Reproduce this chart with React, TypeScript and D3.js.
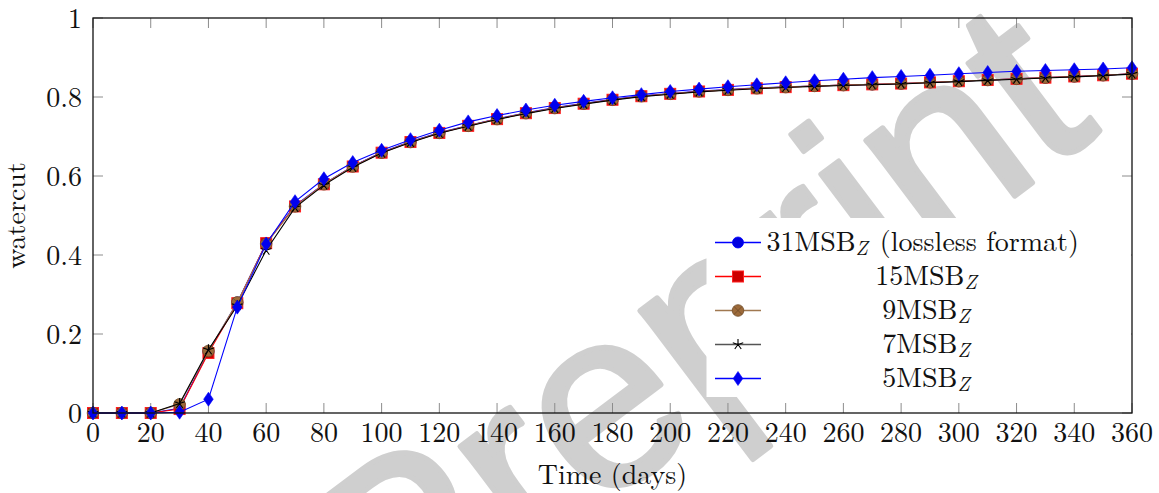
import React from "react";
import * as d3 from "d3";

const days = [0, 10, 20, 30, 40, 50, 60, 70, 80, 90, 100, 110, 120, 130, 140, 150, 160, 170, 180, 190, 200, 210, 220, 230, 240, 250, 260, 270, 280, 290, 300, 310, 320, 330, 340, 350, 360];

const msb31 = [0, 0, 0, 0.012, 0.155, 0.28, 0.43, 0.525, 0.58, 0.625, 0.66, 0.687, 0.71, 0.728, 0.745, 0.76, 0.773, 0.784, 0.794, 0.803, 0.809, 0.815, 0.819, 0.823, 0.826, 0.828, 0.83, 0.832, 0.834, 0.837, 0.84, 0.843, 0.846, 0.849, 0.852, 0.855, 0.859];
const msb15 = [0, 0, 0, 0.01, 0.152, 0.278, 0.43, 0.523, 0.579, 0.624, 0.659, 0.686, 0.709, 0.727, 0.744, 0.759, 0.772, 0.783, 0.793, 0.802, 0.808, 0.814, 0.818, 0.822, 0.825, 0.828, 0.83, 0.832, 0.834, 0.837, 0.84, 0.843, 0.846, 0.849, 0.852, 0.855, 0.859];
const msb9 = [0, 0, 0, 0.022, 0.157, 0.28, 0.428, 0.523, 0.579, 0.624, 0.659, 0.686, 0.709, 0.727, 0.744, 0.759, 0.772, 0.783, 0.793, 0.802, 0.808, 0.814, 0.818, 0.822, 0.825, 0.828, 0.83, 0.832, 0.834, 0.837, 0.84, 0.843, 0.846, 0.849, 0.852, 0.855, 0.859];
const msb7 = [0, 0, 0, 0.024, 0.16, 0.272, 0.412, 0.52, 0.577, 0.622, 0.658, 0.685, 0.708, 0.726, 0.743, 0.758, 0.771, 0.782, 0.792, 0.801, 0.807, 0.813, 0.817, 0.821, 0.824, 0.827, 0.829, 0.831, 0.833, 0.836, 0.839, 0.842, 0.845, 0.848, 0.851, 0.854, 0.858];
const msb5 = [0, 0, 0, 0.002, 0.035, 0.268, 0.428, 0.535, 0.593, 0.634, 0.665, 0.692, 0.716, 0.737, 0.753, 0.767, 0.779, 0.789, 0.798, 0.806, 0.814, 0.82, 0.826, 0.831, 0.836, 0.841, 0.845, 0.849, 0.852, 0.855, 0.859, 0.862, 0.865, 0.867, 0.869, 0.871, 0.874];

const xTicks = [0, 20, 40, 60, 80, 100, 120, 140, 160, 180, 200, 220, 240, 260, 280, 300, 320, 340, 360];
const yTicks = [0, 0.2, 0.4, 0.6, 0.8, 1];
const yTickLabels = ["0", "0.2", "0.4", "0.6", "0.8", "1"];

const seriesNames = ["31", "15", "9", "7", "5"];
const seriesSuffix = ["(lossless format)", "", "", "", ""];

const W = 1159;
const H = 493;
const FONT = '"Latin Modern Roman", "CMU Serif", "Liberation Serif", Tinos, "Times New Roman", Times, "Nimbus Roman", "DejaVu Serif", FreeSerif, "Noto Serif", serif';

type MarkerKind = "circle" | "square" | "otimes" | "star" | "diamond";

const seriesStyles: { color: string; kind: MarkerKind; fill: string; stroke: string }[] = [
  { color: "#0000ff", kind: "circle", fill: "#0000e0", stroke: "#0000ff" },
  { color: "#ff0000", kind: "square", fill: "#cc0000", stroke: "#ff2020" },
  { color: "#a07850", kind: "otimes", fill: "#9c6a3a", stroke: "#6e4a26" },
  { color: "#000000", kind: "star", fill: "none", stroke: "#000000" },
  { color: "#0000ff", kind: "diamond", fill: "#0000ee", stroke: "#0000ff" },
];

function Marker({ x, y, kind, fill, stroke }: { x: number; y: number; kind: MarkerKind; fill: string; stroke: string }) {
  if (kind === "circle") return <circle cx={x} cy={y} r={5.5} fill={fill} stroke={stroke} strokeWidth={0.8} />;
  if (kind === "square") return <rect x={x - 5.5} y={y - 5.5} width={11} height={11} fill={fill} stroke={stroke} strokeWidth={1} />;
  if (kind === "otimes") {
    const r = 5.8;
    const k = r * 0.7;
    return (
      <g>
        <circle cx={x} cy={y} r={r} fill={fill} stroke={stroke} strokeWidth={0.8} />
        <path d={`M${x - k},${y - k}L${x + k},${y + k}M${x - k},${y + k}L${x + k},${y - k}`} stroke={stroke} strokeWidth={0.8} />
      </g>
    );
  }
  if (kind === "star") {
    const r = 5.5;
    let d = "";
    for (let i = 0; i < 5; i++) {
      const a = -Math.PI / 2 + (i * 2 * Math.PI) / 5;
      d += `M${x},${y}L${x + r * Math.cos(a)},${y + r * Math.sin(a)}`;
    }
    return <path d={d} stroke={stroke} strokeWidth={1.1} fill="none" />;
  }
  return <path d={`M${x},${y - 7}L${x + 4.8},${y}L${x},${y + 7}L${x - 4.8},${y}Z`} fill={fill} stroke={stroke} strokeWidth={0.6} />;
}

export default function App() {
  const x = d3.scaleLinear().domain([0, 360]).range([93, 1132]);
  const y = d3.scaleLinear().domain([0, 1]).range([413, 18]);
  const allSeries = [msb31, msb15, msb9, msb7, msb5];
  const line = d3
    .line<number>()
    .x((_, i) => x(days[i]))
    .y((d) => y(d));

  const [x0, x1] = x.range();
  const [yb, yt] = y.range();
  const tickLen = 10;
  const tickColor = "#8c8c8c";

  const legX = 706.5;
  const legY = 218;
  const legW = 1131 - legX;
  const legH = 179;
  const rowY = (i: number) => 242.5 + i * 34;

  const textStyle = { fontFamily: FONT };

  return (
    <svg width={W} height={H} viewBox={`0 0 ${W} ${H}`} style={{ position: "absolute", left: 0, top: 0, background: "#fff" }}>
      <rect x={0} y={0} width={W} height={H} fill="#fff" />
      {/* watermark */}
      <text
        transform="translate(747,398) rotate(-37)"
        textAnchor="middle"
        fontSize={254}
        style={{ fontFamily: '"Liberation Sans", Arimo, Arial, Helvetica, sans-serif' }}
        fill="#cfcfcf"
        stroke="#cfcfcf"
        strokeWidth={5}
        strokeLinejoin="round"
      >
        Preprint
      </text>

      {/* ticks */}
      {xTicks.map((t) => (
        <g key={"xt" + t}>
          <line x1={x(t)} x2={x(t)} y1={yb} y2={yb - tickLen} stroke={tickColor} strokeWidth={1} />
          <line x1={x(t)} x2={x(t)} y1={yt} y2={yt + tickLen} stroke={tickColor} strokeWidth={1} />
        </g>
      ))}
      {yTicks.map((t) => (
        <g key={"yt" + t}>
          <line x1={x0} x2={x0 + tickLen} y1={y(t)} y2={y(t)} stroke={tickColor} strokeWidth={1} />
          <line x1={x1} x2={x1 - tickLen} y1={y(t)} y2={y(t)} stroke={tickColor} strokeWidth={1} />
        </g>
      ))}

      {/* series */}
      {allSeries.map((s, si) => {
        const st = seriesStyles[si];
        return (
          <g key={"s" + si}>
            <path d={line(s) || ""} fill="none" stroke={st.color} strokeWidth={1.1} />
            {s.map((v, i) => (
              <Marker key={i} x={x(days[i])} y={y(v)} kind={st.kind} fill={st.fill} stroke={st.stroke} />
            ))}
          </g>
        );
      })}

      {/* axis box */}
      <rect x={x0} y={yt} width={x1 - x0} height={yb - yt} fill="none" stroke="#111" strokeWidth={1.3} />

      {/* tick labels */}
      {xTicks.map((t) => (
        <text key={"xl" + t} x={x(t)} y={442} textAnchor="middle" style={textStyle} fontSize={28} fill="#111">
          {t}
        </text>
      ))}
      {yTicks.map((t, i) => (
        <text key={"yl" + t} x={82} y={y(t) + 10} textAnchor="end" style={textStyle} fontSize={28} fill="#111">
          {yTickLabels[i]}
        </text>
      ))}

      {/* axis labels */}
      <text x={(x0 + x1) / 2} y={484} textAnchor="middle" style={textStyle} fontSize={28} fill="#111">
        Time (days)
      </text>
      <text transform={`translate(25,${(yb + yt) / 2}) rotate(-90)`} textAnchor="middle" style={textStyle} fontSize={28} fill="#111">
        watercut
      </text>

      {/* legend */}
      <rect x={legX} y={legY} width={legW} height={legH} fill="#fff" />
      {seriesNames.map((n, i) => {
        const st = seriesStyles[i];
        const ry = rowY(i);
        const first = i === 0;
        return (
          <g key={"lg" + i}>
            <line x1={715} x2={761} y1={ry} y2={ry} stroke={i === 3 ? "#555" : st.color} strokeWidth={1.4} />
            <Marker x={738} y={ry} kind={st.kind} fill={st.fill} stroke={st.stroke} />
            <text
              x={first ? 766.5 : 926}
              y={ry + 8.5}
              textAnchor={first ? "start" : "middle"}
              style={textStyle}
              fontSize={28}
              fill="#111"
            >
              {n}MSB
              <tspan fontStyle="italic" fontSize={20} dy={4}>Z</tspan>
              {seriesSuffix[i] ? <tspan dy={-4} dx={12} fontSize={28}>{seriesSuffix[i]}</tspan> : null}
            </text>
          </g>
        );
      })}
    </svg>
  );
}
